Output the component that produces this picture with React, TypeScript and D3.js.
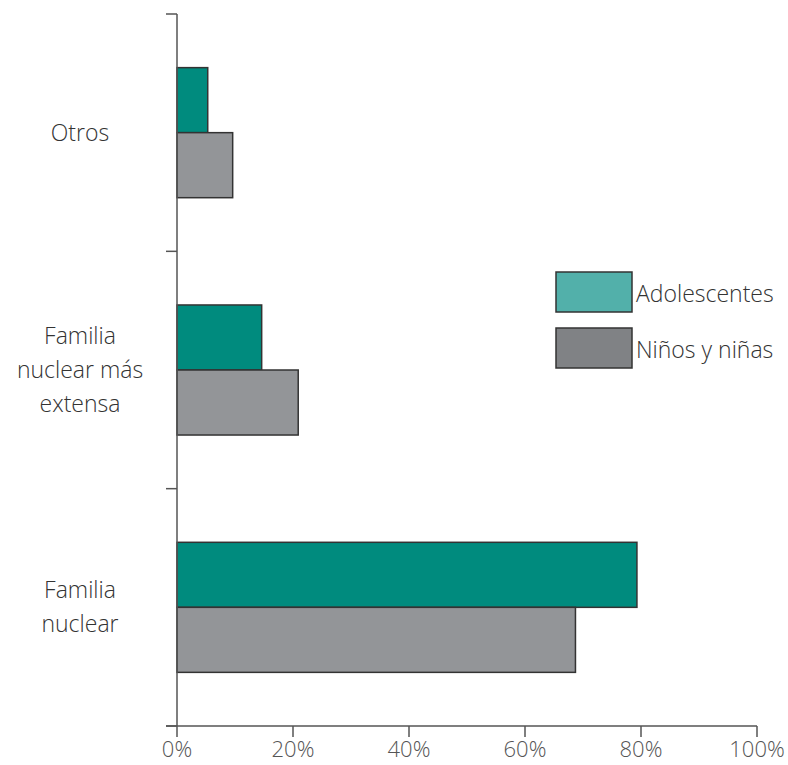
import { useEffect, useRef } from "react";
import * as d3 from "d3";

// Categorías de abajo hacia arriba, como en el gráfico original.
const categories = ["Familia nuclear", "Familia nuclear más extensa", "Otros"];
const categoryLines = [["Familia", "nuclear"], ["Familia", "nuclear más", "extensa"], ["Otros"]];
const adolescentes = [79.3, 14.6, 5.3];
const ninos = [68.7, 20.9, 9.6];
const seriesNames = ["Adolescentes", "Niños y niñas"];
const xTicks = [0, 20, 40, 60, 80, 100];

const W = 788;
const H = 765;
const FONT = "'Open Sans', 'DejaVu Sans', sans-serif";

export default function App() {
  const svgRef = useRef<SVGSVGElement>(null);

  useEffect(() => {
    const svg = d3.select(svgRef.current);
    svg.selectAll("*").remove();

    const x = d3.scaleLinear().domain([0, 100]).range([177, 757]);
    // Bandas de arriba (Otros) hacia abajo (Familia nuclear).
    const y = d3
      .scaleBand<string>()
      .domain([...categories].reverse())
      .range([14, 726]);
    const barH = y.bandwidth() * 0.274;

    const teal = "#008b7e";
    const gray = "#939598";
    const axisColor = "#555";

    // Barras
    const g = svg.append("g");
    categories.forEach((c, i) => {
      const cy = (y(c) ?? 0) + y.bandwidth() / 2;
      g.append("rect")
        .attr("x", x(0))
        .attr("y", cy - barH)
        .attr("width", x(adolescentes[i]) - x(0))
        .attr("height", barH)
        .attr("fill", teal)
        .attr("stroke", "#333")
        .attr("stroke-width", 1.5);
      g.append("rect")
        .attr("x", x(0))
        .attr("y", cy)
        .attr("width", x(ninos[i]) - x(0))
        .attr("height", barH)
        .attr("fill", gray)
        .attr("stroke", "#333")
        .attr("stroke-width", 1.5);
    });

    // Eje Y: línea y marcas en los límites de banda
    const yEdges = [14, ...categories.map((c) => (y(c) ?? 0) + y.bandwidth())];
    svg.append("line")
      .attr("x1", x(0)).attr("x2", x(0))
      .attr("y1", 14).attr("y2", 726)
      .attr("stroke", axisColor).attr("stroke-width", 1.5);
    yEdges.forEach((e) => {
      svg.append("line")
        .attr("x1", 166).attr("x2", x(0))
        .attr("y1", e).attr("y2", e)
        .attr("stroke", axisColor).attr("stroke-width", 1.5);
    });

    // Eje X
    svg.append("line")
      .attr("x1", 166).attr("x2", x(100))
      .attr("y1", 726).attr("y2", 726)
      .attr("stroke", axisColor).attr("stroke-width", 1.5);
    xTicks.forEach((t) => {
      svg.append("line")
        .attr("x1", x(t)).attr("x2", x(t))
        .attr("y1", 726).attr("y2", 737)
        .attr("stroke", axisColor).attr("stroke-width", 1.5);
      svg.append("text")
        .attr("x", x(t))
        .attr("y", 757)
        .attr("text-anchor", "middle")
        .attr("font-family", FONT)
        .attr("font-weight", 300)
        .attr("font-size", 22)
        .attr("fill", "#555")
        .text(`${t}%`);
    });

    // Etiquetas de categoría
    categories.forEach((c, i) => {
      const cy = (y(c) ?? 0) + y.bandwidth() / 2;
      const lines = categoryLines[i];
      const lh = 34;
      lines.forEach((ln, j) => {
        svg.append("text")
          .attr("x", 80)
          .attr("y", cy + (j - (lines.length - 1) / 2) * lh + 8)
          .attr("text-anchor", "middle")
          .attr("font-family", FONT)
          .attr("font-weight", 300)
          .attr("font-size", 23)
          .attr("fill", "#333")
          .text(ln);
      });
    });

    // Leyenda
    const legendColors = ["#52b0aa", "#808285"];
    seriesNames.forEach((s, i) => {
      const ly = 272 + i * 56;
      svg.append("rect")
        .attr("x", 556).attr("y", ly)
        .attr("width", 76).attr("height", 40)
        .attr("fill", legendColors[i])
        .attr("stroke", "#333").attr("stroke-width", 1.5);
      svg.append("text")
        .attr("x", 636).attr("y", ly + 30)
        .attr("font-family", FONT)
        .attr("font-weight", 300)
        .attr("font-size", 23)
        .attr("fill", "#333")
        .text(s);
    });
  }, []);

  return (
    <svg
      ref={svgRef}
      width={W}
      height={H}
      style={{ position: "absolute", left: 0, top: 0, background: "#fff" }}
    />
  );
}
